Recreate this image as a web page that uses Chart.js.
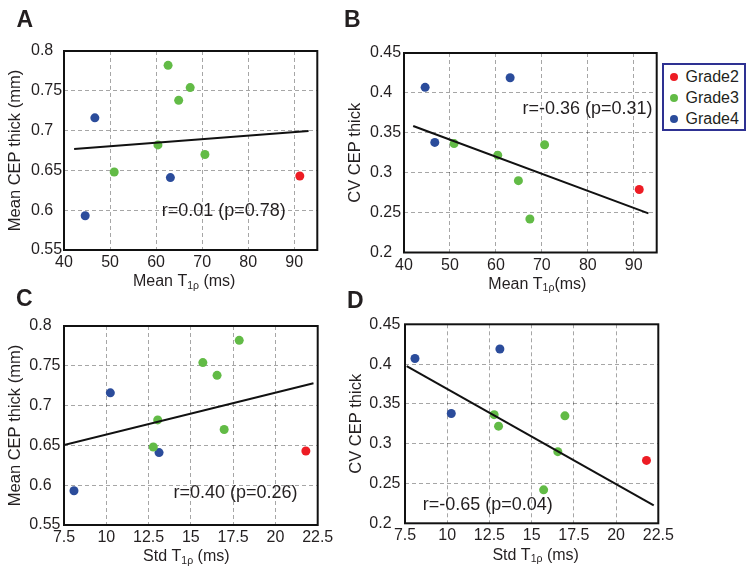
<!DOCTYPE html>
<html>
<head>
<meta charset="utf-8">
<script src="https://cdn.jsdelivr.net/npm/chart.js"></script>
<style>
  body { margin: 0; background: #fff; width: 756px; height: 573px; position: relative; overflow: hidden;
         font-family: "Liberation Sans", Arial, sans-serif; color: #231f20; }
  canvas { position: absolute; }
  #legend { position: absolute; left: 662px; top: 63px; width: 84px; height: 68px; box-sizing: border-box;
            border: 2px solid #2e3192; padding-top: 1.5px; background: #fff; }
  #legend .row { height: 21px; display: flex; align-items: center; font-size: 16px; }
  #legend .dot { width: 8px; height: 8px; border-radius: 50%; margin-left: 6px; margin-right: 7.5px; }
</style>
</head>
<body>
<canvas id="chartA" width="340" height="295" style="left:0;top:0"></canvas>
<canvas id="chartB" width="426" height="295" style="left:330px;top:0"></canvas>
<canvas id="chartC" width="345" height="288" style="left:0;top:285px"></canvas>
<canvas id="chartD" width="426" height="288" style="left:330px;top:285px"></canvas>
<div id="legend"></div>
<script>
const grades = ['Grade2', 'Grade3', 'Grade4'];
const gradeColors = ['#ed1c24', '#62bb46', '#2b4c9b'];

// Grade2
const meanT1rho_g2 = [91.2];
const stdT1rho_g2 = [21.8];
const meanThick_g2 = [0.643];
const cvThick_g2 = [0.279];
// Grade3 (the third subject has no CV point in B/D)
const meanT1rho_g3 = [50.9, 60.4, 62.6, 64.9, 67.4, 70.6];
const stdT1rho_g3 = [12.78, 13.04, 17.86, 16.55, 15.71, 16.97];
const meanThick_g3 = [0.648, 0.682, 0.782, 0.738, 0.754, 0.670];
const cvThick_g3 = [0.3365, 0.322, null, 0.290, 0.242, 0.335];
// Grade4
const meanT1rho_g4 = [44.6, 46.7, 63.1];
const stdT1rho_g4 = [8.09, 10.24, 13.12];
const meanThick_g4 = [0.593, 0.716, 0.641];
const cvThick_g4 = [0.407, 0.338, 0.419];

// fitted lines, end points
const fitA_x = [42.2, 93.1], fitA_y = [0.677, 0.6995];
const fitB_x = [42.0, 93.2], fitB_y = [0.3585, 0.249];
const fitC_x = [7.5, 22.25], fitC_y = [0.6505, 0.728];
const fitD_x = [7.6, 22.23], fitD_y = [0.3976, 0.2226];

const ticksMeanT = [40, 95, 10];
const ticksStdT = [7.5, 22.5, 2.5];
const ticksThick = [0.55, 0.8, 0.05];
const ticksCV = [0.2, 0.45, 0.05];

const ink = '#231f20';
const FONT = '"Liberation Sans", Arial, sans-serif';

function pts(xs, ys) {
  return xs.map((x, i) => ({x: x, y: ys[i]})).filter(p => p.y !== null);
}

const panelPlugin = {
  id: 'panel',
  afterDraw(chart, args, o) {
    const ctx = chart.ctx, a = chart.chartArea;
    const sx = chart.scales.x, sy = chart.scales.y;
    ctx.save();
    ctx.strokeStyle = '#111';
    ctx.lineWidth = 2;
    ctx.strokeRect(a.left, a.top, a.right - a.left, a.bottom - a.top);

    ctx.fillStyle = ink;
    ctx.textAlign = 'left';
    ctx.textBaseline = 'alphabetic';
    ctx.font = 'bold 23px ' + FONT;
    ctx.fillText(o.letter, o.letterPos[0], o.letterPos[1]);

    ctx.font = '18px ' + FONT;
    ctx.textBaseline = 'middle';
    ctx.fillText(o.note, sx.getPixelForValue(o.noteAt[0]), sy.getPixelForValue(o.noteAt[1]));

    // y title
    ctx.save();
    ctx.translate(a.left - 49, (a.top + a.bottom) / 2);
    ctx.rotate(-Math.PI / 2);
    ctx.textAlign = 'center';
    ctx.font = '16.5px ' + FONT;
    ctx.fillText(o.yTitle, 0, 0);
    ctx.restore();

    // x title with subscript
    const parts = [[o.xTitle[0], 16, 0], [o.xTitle[1], 10.5, 4], [o.xTitle[2], 16, 0]];
    let w = 0;
    parts.forEach(p => { ctx.font = p[1] + 'px ' + FONT; p.push(ctx.measureText(p[0]).width); w += p[3]; });
    let x = (a.left + a.right) / 2 + o.xTitleDx - w / 2;
    const y = a.bottom + 32;
    ctx.textAlign = 'left';
    parts.forEach(p => { ctx.font = p[1] + 'px ' + FONT; ctx.fillText(p[0], x, y + p[2]); x += p[3]; });
    ctx.restore();
  }
};

function makeChart(id, cfg) {
  const datasets = [{
    type: 'line',
    data: pts(cfg.fitX, cfg.fitY),
    borderColor: '#111',
    borderWidth: 2,
    pointRadius: 0,
    showLine: true
  }];
  cfg.series.forEach((s, i) => {
    datasets.push({
      label: grades[i],
      data: pts(s[0], s[1]),
      backgroundColor: gradeColors[i],
      borderWidth: 0,
      pointRadius: 4.5
    });
  });
  const fmt = v => String(+v.toFixed(2));
  new Chart(document.getElementById(id), {
    type: 'scatter',
    data: {datasets: datasets},
    plugins: [panelPlugin],
    options: {
      responsive: false,
      animation: false,
      layout: {padding: cfg.pad},
      plugins: {
        legend: {display: false},
        tooltip: {enabled: false},
        panel: cfg.panel
      },
      scales: {
        x: {
          type: 'linear',
          min: cfg.xt[0], max: cfg.xt[1],
          afterFit: s => { s.height = cfg.xh; },
          ticks: {stepSize: cfg.xt[2], includeBounds: false, padding: 3, color: ink,
                  font: {size: 16, family: FONT}, callback: fmt, maxRotation: 0, autoSkip: false},
          grid: {color: 'rgba(0,0,0,0.35)', drawTicks: false, lineWidth: 1},
          border: {display: false, dash: [4, 3]}
        },
        y: {
          min: cfg.yt[0], max: cfg.yt[1],
          afterFit: s => { s.width = cfg.yw; },
          ticks: {stepSize: cfg.yt[2], crossAlign: 'far', padding: 3, color: ink,
                  font: {size: 16, family: FONT}, callback: fmt, autoSkip: false},
          grid: {color: 'rgba(0,0,0,0.35)', drawTicks: false, lineWidth: 1},
          border: {display: false, dash: [4, 3]}
        }
      }
    }
  });
}

makeChart('chartA', {
  series: [[meanT1rho_g2, meanThick_g2], [meanT1rho_g3, meanThick_g3], [meanT1rho_g4, meanThick_g4]],
  fitX: fitA_x, fitY: fitA_y, xt: ticksMeanT, yt: ticksThick,
  pad: {left: 31, top: 51, right: 22.7, bottom: 0}, yw: 33, xh: 45,
  panel: {letter: 'A', letterPos: [16.5, 27], note: 'r=0.01 (p=0.78)', noteAt: [61.2, 0.599],
          yTitle: 'Mean CEP thick (mm)', xTitle: ['Mean T', '1ρ', ' (ms)'], xTitleDx: -6.5}
});

makeChart('chartB', {
  series: [[meanT1rho_g2, cvThick_g2], [meanT1rho_g3, cvThick_g3], [meanT1rho_g4, cvThick_g4]],
  fitX: fitB_x, fitY: fitB_y, xt: ticksMeanT, yt: ticksCV,
  pad: {left: 40, top: 53, right: 99.3, bottom: 0}, yw: 34, xh: 42.5,
  panel: {letter: 'B', letterPos: [14, 27], note: 'r=-0.36 (p=0.31)', noteAt: [65.8, 0.38],
          yTitle: 'CV CEP thick', xTitle: ['Mean T', '1ρ', '(ms)'], xTitleDx: 7}
});

makeChart('chartC', {
  series: [[stdT1rho_g2, meanThick_g2], [stdT1rho_g3, meanThick_g3], [stdT1rho_g4, meanThick_g4]],
  fitX: fitC_x, fitY: fitC_y, xt: ticksStdT, yt: ticksThick,
  pad: {left: 29.3, top: 41, right: 27.3, bottom: 0}, yw: 34.7, xh: 48,
  panel: {letter: 'C', letterPos: [16, 21], note: 'r=0.40 (p=0.26)', noteAt: [13.97, 0.59],
          yTitle: 'Mean CEP thick (mm)', xTitle: ['Std T', '1ρ', ' (ms)'], xTitleDx: -4.5}
});

makeChart('chartD', {
  series: [[stdT1rho_g2, cvThick_g2], [stdT1rho_g3, cvThick_g3], [stdT1rho_g4, cvThick_g4]],
  fitX: fitD_x, fitY: fitD_y, xt: ticksStdT, yt: ticksCV,
  pad: {left: 39.3, top: 39.3, right: 97.7, bottom: 0}, yw: 35.7, xh: 49.7,
  panel: {letter: 'D', letterPos: [17, 23], note: 'r=-0.65 (p=0.04)', noteAt: [8.55, 0.223],
          yTitle: 'CV CEP thick', xTitle: ['Std T', '1ρ', ' (ms)'], xTitleDx: 4}
});

// legend box next to panel B
const legend = document.getElementById('legend');
grades.forEach((g, i) => {
  const row = document.createElement('div');
  row.className = 'row';
  row.innerHTML = '<span class="dot" style="background:' + gradeColors[i] + '"></span>' + g;
  legend.appendChild(row);
});
</script>
</body>
</html>
